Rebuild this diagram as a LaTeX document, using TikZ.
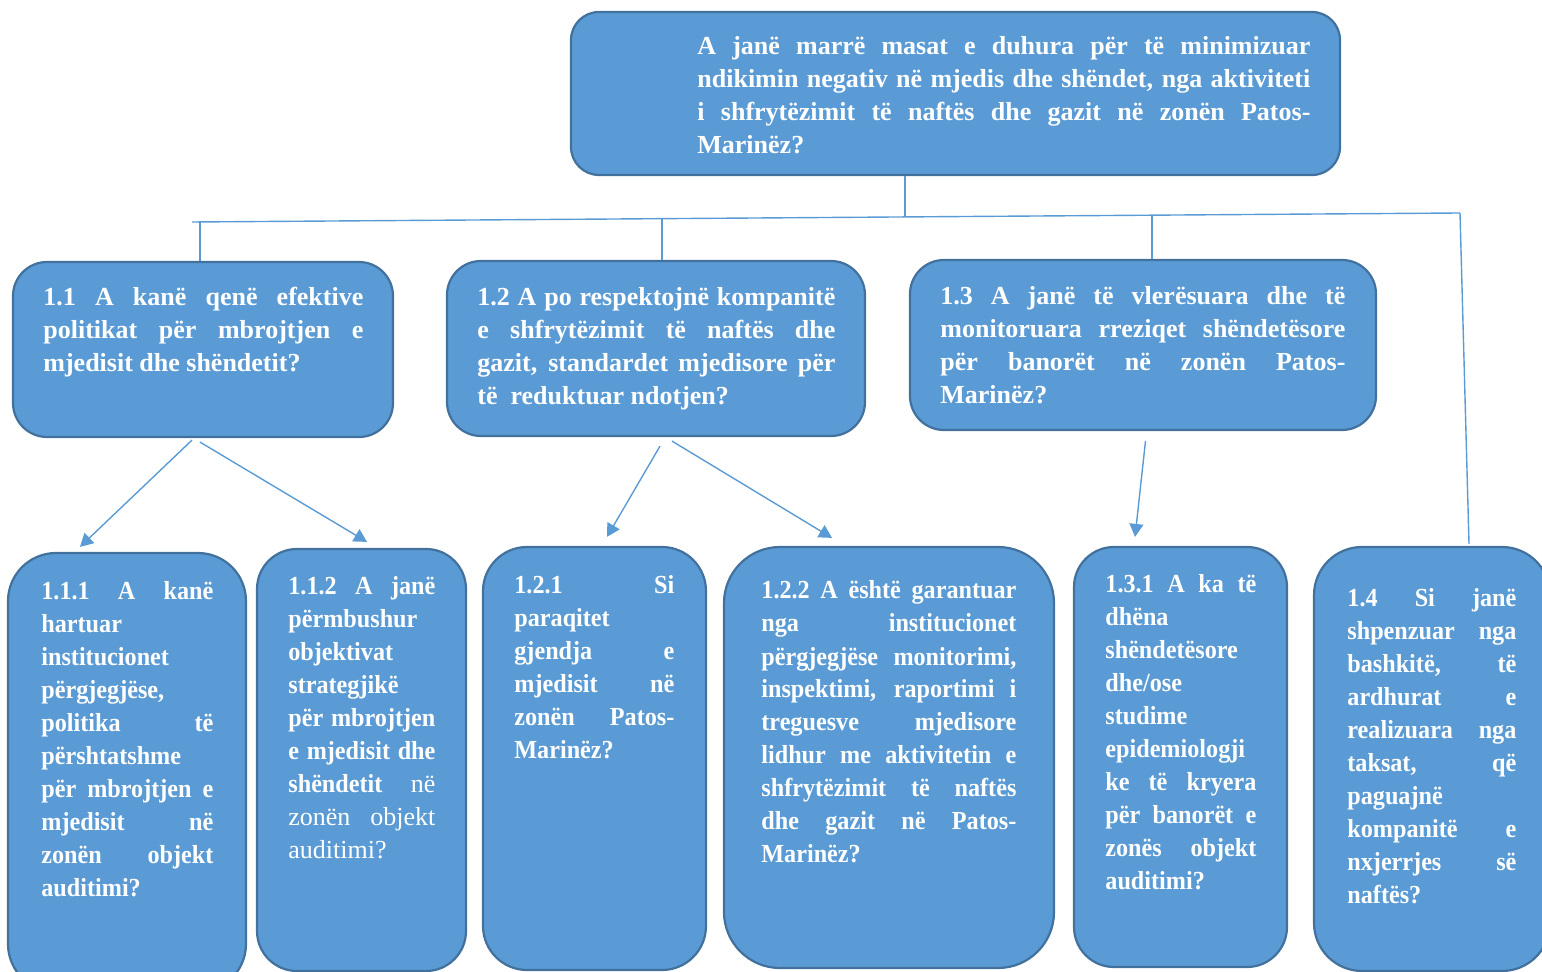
\documentclass[tikz,border=0pt]{standalone}
\usepackage{fontspec}
\setmainfont{Liberation Serif}
\newfontfamily\narrowserif{Liberation Serif}[FakeStretch=0.93]
\usetikzlibrary{arrows.meta,fit,calc}

\definecolor{boxfill}{RGB}{91,155,213}
\definecolor{boxline}{RGB}{65,113,156}
\newcommand{\jbr}{\linebreak}
\newcommand{\qfont}{\bfseries\fontsize{13}{16.5}\selectfont\hyphenpenalty=10000\tolerance=10000}
\newcommand{\nfont}{\narrowserif\qfont}
\newcommand{\plain}[1]{{\rmfamily\mdseries #1}}

\begin{document}
\begin{tikzpicture}[x=0.5pt,y=-0.5pt,
		box/.style={draw=boxline,fill=boxfill,line width=1.1pt,inner sep=0pt},
		qtext/.style={text=white,align=justify,inner sep=0pt,anchor=base west,font=\qfont},
		ntext/.style={qtext,font=\nfont},
		link/.style={draw=boxfill,line width=0.7pt},
		arrow/.style={link,-{Triangle[length=6.5pt,width=7pt]}}]
		\useasboundingbox (0,0) rectangle (1542,972);
		% boxes
		\node[box,rounded corners=14pt,fit={(571,12) (1340,175)}] (q0) {};
		\node[box,rounded corners=17pt,fit={(13,262) (393,437)}] (q1) {};
		\node[box,rounded corners=17pt,fit={(447,261) (865,436)}] (q2) {};
		\node[box,rounded corners=17pt,fit={(910,260) (1376,430)}] (q3) {};
		\node[box,rounded corners=24pt,fit={(8,553) (246,992)}] (q11) {};
		\node[box,rounded corners=20pt,fit={(257,549) (466,971)}] (q12) {};
		\node[box,rounded corners=22pt,fit={(483,547) (706,970)}] (q21) {};
		\node[box,rounded corners=28pt,fit={(724,547) (1054,968)}] (q22) {};
		\node[box,rounded corners=20pt,fit={(1074,547) (1287,967)}] (q31) {};
		\node[box,rounded corners=24pt,fit={(1314,547) (1550,971)}] (q4) {};
		% texts
		\node[qtext,text width=306.5pt] (t0) at (697,55) {A janë marrë masat e duhura për të minimizuar\jbr ndikimin negativ në mjedis dhe shëndet, nga aktiviteti\jbr i shfrytëzimit të naftës dhe gazit në zonën Patos-\jbr Marinëz?};
		\node[qtext,text width=160pt] (t1) at (43,306) {1.1 A kanë qenë efektive\jbr politikat për mbrojtjen e\jbr mjedisit dhe shëndetit?};
		\node[qtext,text width=179pt] (t2) at (477,306) {1.2 A po respektojnë kompanitë\jbr e shfrytëzimit të naftës dhe\jbr gazit, standardet mjedisore për\jbr të~~reduktuar ndotjen?};
		\node[qtext,text width=202.5pt] (t3) at (940,305) {1.3 A janë të vlerësuara dhe të\jbr monitoruara rreziqet shëndetësore\jbr për banorët në zonën Patos-\jbr Marinëz?};
		\node[ntext,text width=86pt] (t11) at (41,600) {1.1.1 A kanë\jbr hartuar\jbr institucionet\jbr përgjegjëse,\jbr politika të\jbr përshtatshme\jbr për mbrojtjen e\jbr mjedisit në\jbr zonën objekt\jbr auditimi?};
		\node[ntext,text width=73.5pt] (t12) at (288,595) {1.1.2 A janë\jbr përmbushur\jbr objektivat\jbr strategjikë\jbr për mbrojtjen\jbr e mjedisit dhe\jbr shëndetit \plain{në}\jbr \plain{zonën objekt}\jbr \plain{auditimi?}};
		\node[ntext,text width=80pt] (t21) at (514,594) {1.2.1 Si\jbr paraqitet\jbr gjendja e\jbr mjedisit në\jbr zonën Patos-\jbr Marinëz?};
		\node[ntext,text width=127.5pt] (t22) at (761,599) {1.2.2 A është garantuar\jbr nga institucionet\jbr përgjegjëse monitorimi,\jbr inspektimi, raportimi i\jbr treguesve mjedisore\jbr lidhur me aktivitetin e\jbr shfrytëzimit të naftës\jbr dhe gazit në Patos-\jbr Marinëz?};
		\node[ntext,text width=75.5pt] (t31) at (1105,593) {1.3.1 A ka të\jbr dhëna\jbr shëndetësore\jbr dhe/ose\jbr studime\jbr epidemiologji\jbr ke të kryera\jbr për banorët e\jbr zonës objekt\jbr auditimi?};
		\node[ntext,text width=84.5pt] (t4) at (1347,607) {1.4 Si janë\jbr shpenzuar nga\jbr bashkitë, të\jbr ardhurat e\jbr realizuara nga\jbr taksat, që\jbr paguajnë\jbr kompanitë e\jbr nxjerrjes së\jbr naftës?};
		% bus
		\coordinate (bl) at (192,222);
		\coordinate (br) at (1460,213);
		\coordinate (jt) at (905,217);
		\coordinate (j1) at (200,222);
		\coordinate (j2) at (662,219);
		\coordinate (j3) at (1152,216);
		\draw[link] (bl) -- (br);
		\draw[link] (q0.south -| jt) -- (jt);
		\draw[link] (j1) -- (j1 |- q1.north);
		\draw[link] (j2) -- (j2 |- q2.north);
		\draw[link] (j3) -- (j3 |- q3.north);
		\draw[link] (br) -- ($(q4.north)+(37,-2)$);
		% arrows
		\draw[arrow] ($(q1.south)+(-11,2)$) -- ($(q11.north)+(-47,-5)$);
		\draw[arrow] ($(q1.south)+(-3,4)$) -- ($(q12.north)+(5.5,-6)$);
		\draw[arrow] ($(q2.south)+(4,9)$) -- ($(q21.north)+(12.5,-9)$);
		\draw[arrow] ($(q2.south)+(16,4)$) -- ($(q22.north)+(-57,-8)$);
		\draw[arrow] ($(q3.south)+(2.5,10)$) -- ($(q31.north)+(-45.5,-9)$);
\end{tikzpicture}
\end{document}
